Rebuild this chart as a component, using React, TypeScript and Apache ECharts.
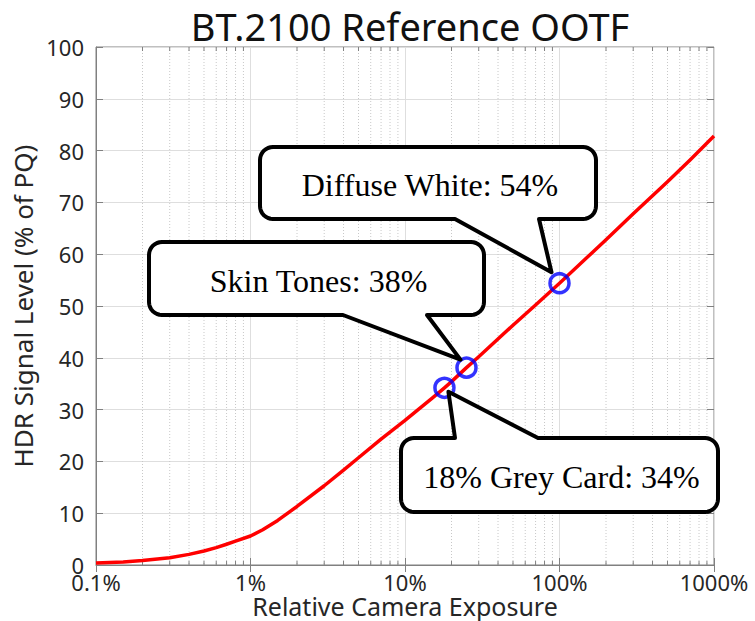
import React, { useEffect, useRef } from "react";
import * as echarts from "echarts";

// Curve: relative camera exposure (%) -> HDR signal (% of PQ)
const curveX = [0.1, 0.15, 0.2, 0.3, 0.4, 0.5, 0.6, 0.7, 0.8, 1, 1.2, 1.5, 2, 3, 4, 5, 7, 10, 15, 18, 20, 25, 30, 50, 70, 100, 150, 200, 300, 500, 700, 1000];
const curveY = [0.4, 0.6, 0.85, 1.4, 2.05, 2.7, 3.35, 4.0, 4.6, 5.6, 6.8, 8.6, 11.3, 15.3, 18.3, 20.7, 24.3, 27.9, 32.2, 34.2, 35.4, 38.1, 40.2, 46.3, 50.2, 54.4, 59.3, 62.8, 67.8, 74.0, 78.2, 82.8];

// Highlighted points
const keyLabels = ["18% Grey Card: 34%", "Skin Tones: 38%", "Diffuse White: 54%"];
const keyX = [18, 25, 100];
const keyY = [34.2, 38.1, 54.4];

// Minor (2..9) positions of the log axis
const minorX = [
  0.2, 0.3, 0.4, 0.5, 0.6, 0.7, 0.8, 0.9,
  2, 3, 4, 5, 6, 7, 8, 9,
  20, 30, 40, 50, 60, 70, 80, 90,
  200, 300, 400, 500, 600, 700, 800, 900,
];

// Callout layout (pixels): box, tail base on box edge, tip offset from point
const callouts = [
  { box: [401, 438, 718, 512], side: "top", base: [455, 538], tipOff: [4, 4] },
  { box: [149, 242, 484, 315], side: "bottom", base: [343, 427], tipOff: [-6, -8] },
  { box: [260, 147, 596, 219], side: "bottom", base: [455, 539], tipOff: [-8, -11] },
];

const FONT = "'Noto Sans', 'DejaVu Sans', sans-serif";
const AXIS_COLOR = "#808080";
const TEXT_COLOR = "#262626";

function arc(cx: number, cy: number, r: number, a0: number, a1: number): number[][] {
  const pts: number[][] = [];
  const n = 8;
  for (let i = 0; i <= n; i++) {
    const a = ((a0 + ((a1 - a0) * i) / n) * Math.PI) / 180;
    pts.push([cx + r * Math.cos(a), cy + r * Math.sin(a)]);
  }
  return pts;
}

function calloutPoints(box: number[], side: string, base: number[], tip: number[], r: number): number[][] {
  const [x0, y0, x1, y1] = box;
  let pts: number[][] = [];
  pts = pts.concat(arc(x0 + r, y0 + r, r, 180, 270));
  if (side === "top") {
    pts.push([base[0], y0], [tip[0], tip[1]], [base[1], y0]);
  }
  pts = pts.concat(arc(x1 - r, y0 + r, r, 270, 360));
  pts = pts.concat(arc(x1 - r, y1 - r, r, 0, 90));
  if (side === "bottom") {
    pts.push([base[1], y1], [tip[0], tip[1]], [base[0], y1]);
  }
  pts = pts.concat(arc(x0 + r, y1 - r, r, 90, 180));
  return pts;
}

export default function App() {
  const ref = useRef<HTMLDivElement>(null);

  useEffect(() => {
    if (!ref.current) return;
    const chart = echarts.init(ref.current, undefined, { renderer: "svg" });

    const option: any = {
      animation: false,
      backgroundColor: "#ffffff",
      title: {
        text: "BT.2100 Reference OOTF",
        left: 405,
        textAlign: "center",
        top: 2,
        textStyle: { fontSize: 38, fontWeight: "normal", color: "#111111", fontFamily: FONT },
      },
      grid: {
        left: 96,
        right: 41,
        top: 47,
        bottom: 56,
        outerBoundsMode: "none",
        containLabel: false,
        show: true,
        borderColor: AXIS_COLOR,
        borderWidth: 1,
        backgroundColor: "transparent",
      },
      xAxis: [
        {
          type: "log",
          logBase: 10,
          min: 0.1,
          max: 1000,
          name: "Relative Camera Exposure",
          nameLocation: "middle",
          nameGap: 29,
          nameMoveOverlap: false,
          nameTextStyle: { fontSize: 25, lineHeight: 24, color: TEXT_COLOR, fontFamily: FONT },
          axisLine: { show: true, lineStyle: { color: AXIS_COLOR, width: 1 } },
          axisTick: { show: true, inside: true, length: 7, lineStyle: { color: AXIS_COLOR } },
          axisLabel: {
            fontSize: 22,
            lineHeight: 18,
            color: TEXT_COLOR,
            fontFamily: FONT,
            margin: 8,
            formatter: (v: number) => `${v}%`,
          },
          splitLine: { show: true, lineStyle: { color: "#dedede", width: 1 } },
        },
        {
          type: "log",
          logBase: 10,
          min: 0.1,
          max: 1000,
          position: "top",
          axisLine: { show: false },
          axisTick: { show: true, inside: true, length: 7, lineStyle: { color: AXIS_COLOR } },
          axisLabel: { show: false },
          splitLine: { show: false },
        },
      ],
      yAxis: [
        {
          type: "value",
          min: 0,
          max: 100,
          interval: 10,
          name: "HDR Signal Level (% of PQ)",
          nameLocation: "middle",
          nameGap: 60,
          nameMoveOverlap: false,
          nameTextStyle: { fontSize: 26, color: TEXT_COLOR, fontFamily: FONT },
          axisLine: { show: true, lineStyle: { color: AXIS_COLOR, width: 1 } },
          axisTick: { show: true, inside: true, length: 7, lineStyle: { color: AXIS_COLOR } },
          axisLabel: { fontSize: 22, lineHeight: 14, color: TEXT_COLOR, fontFamily: FONT, margin: 12 },
          splitLine: { show: true, lineStyle: { color: "#dedede", width: 1 } },
        },
        {
          type: "value",
          min: 0,
          max: 100,
          interval: 10,
          position: "right",
          axisLine: { show: false },
          axisTick: { show: true, inside: true, length: 7, lineStyle: { color: AXIS_COLOR } },
          axisLabel: { show: false },
          splitLine: { show: false },
        },
      ],
      series: [
        {
          type: "custom",
          xAxisIndex: 0,
          yAxisIndex: 0,
          z: 1,
          silent: true,
          data: minorX.map((v) => [v, 0]),
          encode: { x: 0, y: 1 },
          renderItem: (_params: any, api: any) => {
            const v = api.value(0);
            const top = api.coord([v, 100]);
            const bot = api.coord([v, 0]);
            return {
              type: "group",
              children: [
                {
                  type: "line",
                  shape: { x1: top[0], y1: top[1], x2: bot[0], y2: bot[1] },
                  style: { stroke: "#c8c8c8", lineWidth: 1, lineDash: [1, 2] },
                },
                {
                  type: "line",
                  shape: { x1: bot[0], y1: bot[1], x2: bot[0], y2: bot[1] - 4 },
                  style: { stroke: AXIS_COLOR, lineWidth: 1 },
                },
                {
                  type: "line",
                  shape: { x1: top[0], y1: top[1], x2: top[0], y2: top[1] + 4 },
                  style: { stroke: AXIS_COLOR, lineWidth: 1 },
                },
              ],
            };
          },
        },
        {
          type: "line",
          xAxisIndex: 0,
          yAxisIndex: 0,
          z: 3,
          data: curveX.map((x, i) => [x, curveY[i]]),
          showSymbol: false,
          symbol: "none",
          smooth: false,
          lineStyle: { color: "#ff0000", width: 3.5, join: "round" },
        },
        {
          type: "scatter",
          xAxisIndex: 0,
          yAxisIndex: 0,
          z: 4,
          data: keyX.map((x, i) => [x, keyY[i]]),
          symbol: "circle",
          symbolSize: 19,
          itemStyle: { color: "rgba(0,0,0,0)", borderColor: "#0000ff", borderWidth: 3.5 },
        },
      ],
    };

    chart.setOption(option);

    const graphics: any[] = [];
    callouts.forEach((c, i) => {
      const p = chart.convertToPixel({ seriesIndex: 2 }, [keyX[i], keyY[i]]) as number[];
      const tip = [p[0] + c.tipOff[0], p[1] + c.tipOff[1]];
      const pts = calloutPoints(c.box, c.side, c.base, tip, 13);
      graphics.push({
        type: "polygon",
        z: 10,
        shape: { points: pts },
        style: { fill: "#ffffff", stroke: "#000000", lineWidth: 4, lineJoin: "round" },
      });
      graphics.push({
        type: "text",
        z: 11,
        style: {
          text: keyLabels[i],
          x: (c.box[0] + c.box[2]) / 2 + 2,
          y: (c.box[1] + c.box[3]) / 2 + 2,
          align: "center",
          verticalAlign: "middle",
          textAlign: "center",
          textVerticalAlign: "middle",
          font: "32px 'Liberation Serif', 'Times New Roman', serif",
          fill: "#000000",
        },
      });
    });
    chart.setOption({ graphic: graphics });

    return () => chart.dispose();
  }, []);

  return (
    <div
      ref={ref}
      style={{ position: "fixed", left: 0, top: 0, width: 755, height: 621, background: "#ffffff" }}
    />
  );
}
